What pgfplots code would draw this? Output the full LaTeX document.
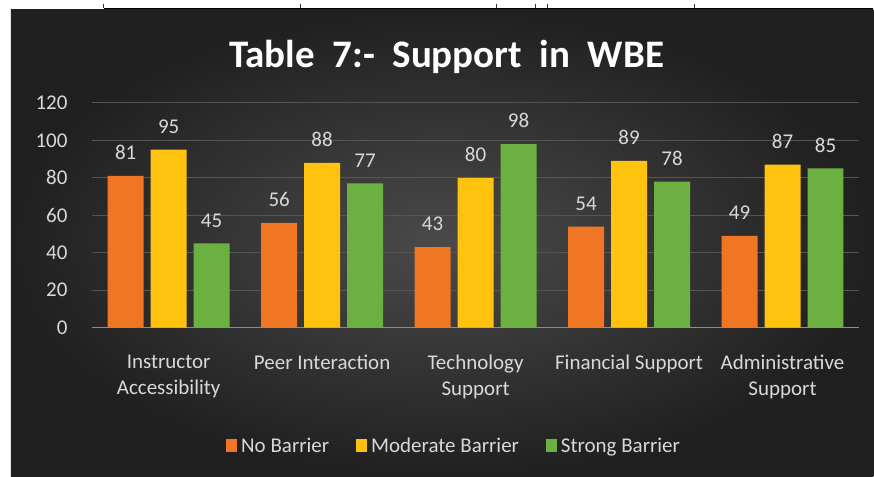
\documentclass[border=0pt]{standalone}
\usepackage{pgfplots}
\pgfplotsset{compat=1.18}
\usepackage{fontspec}
\setmainfont{Carlito}
\definecolor{cOrange}{RGB}{240,118,36}
\definecolor{cYellow}{RGB}{255,194,14}
\definecolor{cGreen}{RGB}{108,176,66}
\definecolor{txt}{RGB}{217,217,217}
\definecolor{gridc}{RGB}{85,85,85}
\begin{document}
\begin{tikzpicture}[x=1pt,y=1pt]
\fill[white] (0,0) rectangle (874,477);
\shade[inner color={rgb,255:red,74;green,74;blue,74}, outer color={rgb,255:red,32;green,32;blue,32}] (11,0) rectangle (874,467);
\draw[black,line width=1.5pt] (104,468.5) -- (874,468.5);
\foreach \xx in {104,301,497,536,548,695} {\draw[black!80,line width=1pt] (\xx,468.5) -- (\xx,473);}
\node[font=\bfseries\fontsize{39}{44}\selectfont, text=white] at (447,420) {Table\ \ 7:-\ \ Support\ \ in\ \ WBE};
\begin{axis}[
  at={(92pt,149pt)}, anchor=south west,
  scale only axis, width=768pt, height=225pt,
  ybar=7pt, bar width=36pt,
  xmin=-0.5, xmax=4.5, ymin=0, ymax=120,
  ytick={0,20,...,120},
  xtick=data,
  xticklabels={Instructor\\Accessibility, Peer Interaction, Technology\\Support, Financial Support, Administrative\\Support},
  xticklabel style={align=center, text=txt, font=\fontsize{21}{26}\selectfont, yshift=-24pt},
  yticklabel style={text=txt, font=\fontsize{21}{24}\selectfont, xshift=-21pt},
  /pgf/number format/assume math mode=true,
  major tick length=0pt,
  axis line style={draw=none},
  ymajorgrids, grid style={gridc, line width=1pt},
  extra y ticks={0}, extra y tick labels={},
  extra y tick style={grid style={draw={rgb,255:red,140;green,140;blue,140}, line width=1.2pt}},
  nodes near coords,
  every node near coord/.append style={text=txt, font=\fontsize{21}{24}\selectfont, anchor=south, inner sep=0pt, yshift=16pt},
  legend columns=3,
  legend style={at={(0.472,-0.527)}, anchor=center, draw=none, fill=none, text=txt, font=\fontsize{21}{24}\selectfont,
    /tikz/every even column/.append style={column sep=25pt},
    /tikz/every odd column/.append style={column sep=2pt}},
  legend image code/.code={\fill[#1,draw=none] (0pt,-6pt) rectangle (11pt,7pt);},
  clip=false,
]
\addplot[fill=cOrange, draw=none] coordinates {(0,81) (1,56) (2,43) (3,54) (4,49)};
\addplot[fill=cYellow, draw=none] coordinates {(0,95) (1,88) (2,80) (3,89) (4,87)};
\addplot[fill=cGreen, draw=none] coordinates {(0,45) (1,77) (2,98) (3,78) (4,85)};
\legend{No Barrier, Moderate Barrier, Strong Barrier}
\end{axis}
\end{tikzpicture}
\end{document}
